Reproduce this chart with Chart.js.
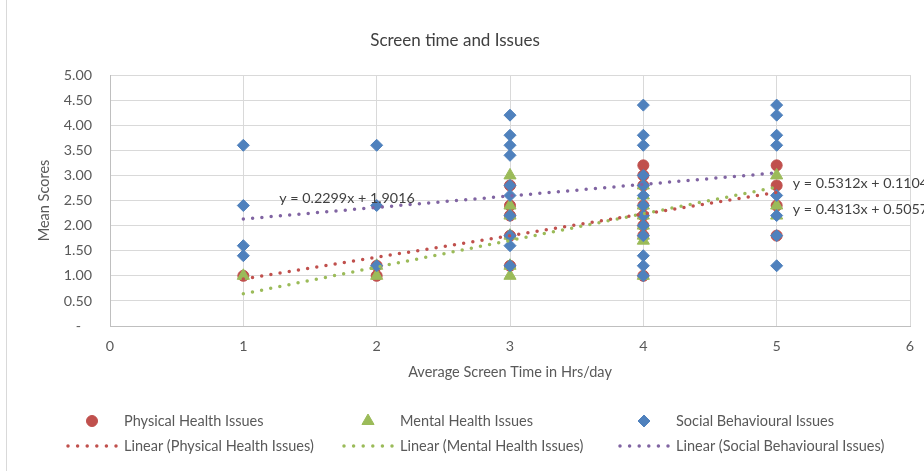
<!DOCTYPE html>
<html>
<head>
<meta charset="utf-8">
<script src="https://cdn.jsdelivr.net/npm/chart.js@4.4.1/dist/chart.umd.min.js"></script>
<style>
  html, body { margin: 0; padding: 0; background: #fff; }
</style>
</head>
<body>
<canvas id="chart1" width="924" height="471"></canvas>
<script>
// valores (horas de pantalla / puntaje medio)
const seriesNames = ['Physical Health Issues', 'Mental Health Issues', 'Social Behavioural Issues'];

const physicalX = [1, 2, 2, 3, 3, 3, 3, 3, 4, 4, 4, 4, 4, 4, 4, 4, 5, 5, 5, 5];
const physicalY = [1.0, 1.2, 1.0, 2.8, 2.4, 2.2, 1.8, 1.2, 3.2, 3.0, 2.8, 2.4, 2.2, 2.0, 1.8, 1.0, 3.2, 2.8, 2.4, 1.8];

const mentalX = [1, 2, 2, 3, 3, 3, 3, 3, 3, 4, 4, 4, 4, 4, 4, 4, 4, 5, 5, 5];
const mentalY = [1.0, 1.2, 1.0, 3.0, 2.4, 2.2, 1.8, 1.2, 1.0, 2.8, 2.6, 2.4, 2.2, 2.0, 1.8, 1.7, 1.0, 3.0, 2.4, 2.2];

const socialX = [1, 1, 1, 1, 2, 2, 2, 3, 3, 3, 3, 3, 3, 3, 3, 3, 3,
                 4, 4, 4, 4, 4, 4, 4, 4, 4, 4, 4, 4, 4, 5, 5, 5, 5, 5, 5, 5, 5];
const socialY = [3.6, 2.4, 1.6, 1.4, 3.6, 2.4, 1.2, 4.2, 3.8, 3.6, 3.4, 2.8, 2.6, 2.2, 1.8, 1.6, 1.2,
                 4.4, 3.8, 3.6, 3.0, 2.8, 2.6, 2.4, 2.2, 2.0, 1.8, 1.4, 1.2, 1.0, 4.4, 4.2, 3.8, 3.6, 2.6, 2.2, 1.8, 1.2];

// ecuaciones de tendencia que muestra el grafico
const trendSlope = [0.4313, 0.5312, 0.2299];
const trendIntercept = [0.5057, 0.1104, 1.9016];
const trendRange = [1, 5];

const xTicks = [0, 1, 2, 3, 4, 5, 6];
const yTicks = [0, 0.5, 1, 1.5, 2, 2.5, 3, 3.5, 4, 4.5, 5];

const colors = ['#C0504D', '#9BBB59', '#4F81BD'];
const trendColors = ['#C0504D', '#9BBB59', '#8064A2'];
const FONT = 'Lato';

const toPoints = ( xs, ys ) => xs.map(( x, i ) => ({ x, y: ys[i] }));

const trendPoints = ( i ) => trendRange.map(( x ) => ({ x, y: trendSlope[i] * x + trendIntercept[i] }));

const formatEq = ( i ) => `y = ${ trendSlope[i] }x + ${ trendIntercept[i] }`;

// fondo blanco y borde del area del grafico
const backgroundPlugin = {
  id: 'background',
  beforeDraw: ( chart ) => {
    const ctx = chart.ctx;
    ctx.save();
    ctx.fillStyle = '#ffffff';
    ctx.fillRect( 0, 0, chart.width, chart.height );
    ctx.strokeStyle = '#d9d9d9';
    ctx.lineWidth = 1;
    ctx.beginPath();
    ctx.moveTo( 6.5, 0 );
    ctx.lineTo( 6.5, chart.height );
    ctx.stroke();
    ctx.restore();
  }
};

// etiquetas de las ecuaciones
const equationPlugin = {
  id: 'equations',
  afterDatasetsDraw: ( chart ) => {
    const { ctx, scales: { x, y } } = chart;
    // posicion (en unidades de datos) donde Excel dejo cada etiqueta
    const spots = [[5.12, 2.32], [5.12, 2.85], [1.27, 2.55]];
    ctx.save();
    ctx.font = `14.3px ${ FONT }`;
    ctx.fillStyle = '#404040';
    ctx.textBaseline = 'middle';
    ctx.textAlign = 'left';
    spots.forEach(( s, i ) => {
      ctx.fillText( formatEq( i ), x.getPixelForValue( s[0] ), y.getPixelForValue( s[1] ) );
    });
    ctx.restore();
  }
};

// leyenda en dos filas como la de Excel
const legendPlugin = {
  id: 'legendRows',
  afterDraw: ( chart ) => {
    const ctx = chart.ctx;
    const datasets = chart.data.datasets;
    ctx.save();
    ctx.font = `14.5px ${ FONT }`;
    ctx.fillStyle = '#595959';
    ctx.textBaseline = 'middle';
    datasets.forEach(( ds, i ) => {
      const col = i % 3;
      const row = Math.floor( i / 3 );
      const textX = 124 + col * 276;
      const rowY = 421 + row * 25;
      if ( ds.showLine ) {
        ctx.save();
        ctx.strokeStyle = ds.borderColor;
        ctx.lineWidth = ds.borderWidth;
        ctx.lineCap = 'round';
        ctx.setLineDash( [0, 9.6] );
        ctx.beginPath();
        ctx.moveTo( textX - 56, rowY );
        ctx.lineTo( textX - 7, rowY );
        ctx.stroke();
        ctx.restore();
      } else {
        ctx.save();
        ctx.fillStyle = ds.backgroundColor;
        ctx.strokeStyle = ds.borderColor;
        ctx.lineWidth = 1;
        Chart.helpers.drawPoint( ctx, { pointStyle: ds.pointStyle, radius: ds.pointRadius, rotation: 0, borderWidth: 1 }, textX - 32, rowY );
        ctx.restore();
      }
      ctx.fillStyle = '#595959';
      ctx.fillText( ds.label, textX, rowY );
    });
    ctx.restore();
  }
};

const pointStyles = ['circle', 'triangle', 'rectRot'];
const pointSizes = [5.5, 7, 6];
const seriesX = [physicalX, mentalX, socialX];
const seriesY = [physicalY, mentalY, socialY];
const pointOrder = [3, 2, 1];

const datasets = [];

seriesNames.forEach(( name, i ) => {
  datasets.push({
    label: name,
    data: toPoints( seriesX[i], seriesY[i] ),
    pointStyle: pointStyles[i],
    pointRadius: pointSizes[i],
    pointHoverRadius: pointSizes[i],
    backgroundColor: colors[i],
    borderColor: colors[i],
    borderWidth: 1,
    showLine: false,
    order: pointOrder[i]
  });
});

seriesNames.forEach(( name, i ) => {
  datasets.push({
    label: `Linear (${ name })`,
    data: trendPoints( i ),
    showLine: true,
    pointRadius: 0,
    borderColor: trendColors[i],
    backgroundColor: trendColors[i],
    borderWidth: 3.5,
    borderDash: [0, 9.3],
    borderCapStyle: 'round',
    order: 0
  });
});

const canvas = document.querySelector( '#chart1' );

new Chart( canvas, {
  type: 'scatter',
  data: { datasets },
  options: {
    responsive: false,
    animation: false,
    devicePixelRatio: 1,
    layout: {
      padding: { left: 0, right: 14, top: 0, bottom: 85 }
    },
    plugins: {
      legend: { display: false },
      tooltip: { enabled: false },
      title: {
        display: true,
        text: 'Screen time and Issues',
        color: '#404040',
        font: { family: FONT, size: 17, weight: 'normal' },
        padding: { top: 30, bottom: 24.6 }
      }
    },
    scales: {
      x: {
        type: 'linear',
        min: xTicks[0],
        max: xTicks[xTicks.length - 1],
        afterFit: ( scale ) => {
          scale.height = 60;
          scale.paddingLeft = 0;
          scale.paddingRight = 0;
        },
        afterBuildTicks: ( scale ) => { scale.ticks = xTicks.map(( v ) => ({ value: v })); },
        grid: { color: '#d9d9d9', drawTicks: false },
        border: { color: '#bfbfbf' },
        ticks: {
          color: '#595959',
          padding: 12,
          font: { family: FONT, size: 14.3 }
        },
        title: {
          display: true,
          text: 'Average Screen Time in Hrs/day',
          color: '#595959',
          font: { family: FONT, size: 14.5 },
          padding: { top: 0, bottom: 5 }
        }
      },
      y: {
        type: 'linear',
        min: yTicks[0],
        max: yTicks[yTicks.length - 1],
        afterFit: ( scale ) => { scale.width = 110; },
        afterBuildTicks: ( scale ) => { scale.ticks = yTicks.map(( v ) => ({ value: v })); },
        grid: { color: '#d9d9d9', drawTicks: false },
        border: { color: '#bfbfbf' },
        ticks: {
          color: '#595959',
          padding: 18,
          font: { family: FONT, size: 14.3 },
          callback: ( value ) => value === 0 ? '-   ' : value.toFixed( 2 )
        },
        title: {
          display: true,
          text: 'Mean Scores',
          color: '#595959',
          font: { family: FONT, size: 14.5 },
          padding: { top: 36, bottom: 0 }
        }
      }
    }
  },
  plugins: [ backgroundPlugin, equationPlugin, legendPlugin ]
});
</script>
</body>
</html>
